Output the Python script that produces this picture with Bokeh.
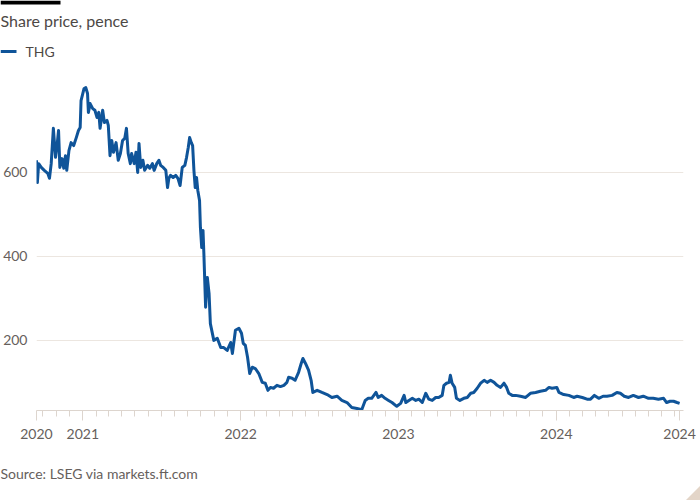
import pandas as pd
from bokeh.plotting import figure
from bokeh.layouts import column, row
from bokeh.models import (ColumnDataSource, Range1d, FixedTicker, DatetimeTickFormatter,
                          Label, BoxAnnotation)
from bokeh.embed import file_html
from bokeh.resources import INLINE

# ---------------- data ----------------
title_text = "Share price, pence"
series_name = "THG"
source_text = "Source: LSEG via markets.ft.com"

dates = [
    "2020-09-16", "2020-09-18", "2020-09-21", "2020-09-27", "2020-10-04", "2020-10-12",
    "2020-10-16", "2020-10-20", "2020-10-25", "2020-10-30", "2020-11-03", "2020-11-06",
    "2020-11-09", "2020-11-14", "2020-11-18", "2020-11-22", "2020-11-25", "2020-11-30",
    "2020-12-05", "2020-12-11", "2020-12-17", "2020-12-22", "2020-12-26", "2020-12-28",
    "2021-01-04", "2021-01-08", "2021-01-12", "2021-01-14", "2021-01-18", "2021-01-24",
    "2021-01-29", "2021-02-03", "2021-02-07", "2021-02-10", "2021-02-16", "2021-02-20",
    "2021-02-26", "2021-03-01", "2021-03-05", "2021-03-09", "2021-03-13", "2021-03-19",
    "2021-03-24", "2021-03-29", "2021-04-03", "2021-04-08", "2021-04-12", "2021-04-16",
    "2021-04-21", "2021-04-24", "2021-04-30", "2021-05-04", "2021-05-08", "2021-05-11",
    "2021-05-15", "2021-05-20", "2021-05-24", "2021-05-31", "2021-06-05", "2021-06-11",
    "2021-06-15", "2021-06-21", "2021-06-26", "2021-06-30", "2021-07-06", "2021-07-12",
    "2021-07-16", "2021-07-19", "2021-07-23", "2021-07-29", "2021-08-04", "2021-08-09",
    "2021-08-14", "2021-08-19", "2021-08-25", "2021-08-29", "2021-09-02", "2021-09-05",
    "2021-09-09", "2021-09-12", "2021-09-15", "2021-09-18", "2021-09-21", "2021-09-24",
    "2021-09-28", "2021-09-30", "2021-10-03", "2021-10-06", "2021-10-08", "2021-10-10",
    "2021-10-12", "2021-10-16", "2021-10-20", "2021-10-23", "2021-10-31", "2021-11-08",
    "2021-11-16", "2021-11-23", "2021-12-01", "2021-12-09", "2021-12-13", "2021-12-20",
    "2021-12-28", "2022-01-03", "2022-01-07", "2022-01-12", "2022-01-17", "2022-01-22",
    "2022-01-28", "2022-02-04", "2022-02-12", "2022-02-20", "2022-02-27", "2022-03-05",
    "2022-03-11", "2022-03-18", "2022-03-26", "2022-04-03", "2022-04-11", "2022-04-18",
    "2022-04-22", "2022-04-30", "2022-05-07", "2022-05-15", "2022-05-21", "2022-05-25",
    "2022-05-31", "2022-06-07", "2022-06-13", "2022-06-17", "2022-06-27", "2022-07-08",
    "2022-07-20", "2022-07-31", "2022-08-12", "2022-08-23", "2022-09-04", "2022-09-15",
    "2022-09-27", "2022-10-08", "2022-10-16", "2022-10-23", "2022-10-31", "2022-11-10",
    "2022-11-15", "2022-11-23", "2022-12-01", "2022-12-09", "2022-12-17", "2022-12-28",
    "2023-01-06", "2023-01-14", "2023-01-18", "2023-01-25", "2023-02-02", "2023-02-10",
    "2023-02-17", "2023-02-25", "2023-03-05", "2023-03-12", "2023-03-20", "2023-03-28",
    "2023-04-04", "2023-04-12", "2023-04-16", "2023-04-22", "2023-04-28", "2023-05-01",
    "2023-05-05", "2023-05-11", "2023-05-15", "2023-05-23", "2023-06-01", "2023-06-09",
    "2023-06-17", "2023-06-24", "2023-07-02", "2023-07-10", "2023-07-18", "2023-07-25",
    "2023-08-02", "2023-08-10", "2023-08-17", "2023-08-25", "2023-09-02", "2023-09-08",
    "2023-09-13", "2023-09-21", "2023-09-29", "2023-10-10", "2023-10-22", "2023-11-02",
    "2023-11-14", "2023-11-25", "2023-12-07", "2023-12-15", "2023-12-22", "2024-01-02",
    "2024-01-07", "2024-01-18", "2024-01-30", "2024-02-10", "2024-02-18", "2024-03-01",
    "2024-03-12", "2024-03-20", "2024-03-29", "2024-04-08", "2024-04-18", "2024-04-27",
    "2024-05-09", "2024-05-20", "2024-05-28", "2024-06-06", "2024-06-16", "2024-06-27",
    "2024-07-09", "2024-07-20", "2024-08-01", "2024-08-12", "2024-08-24", "2024-09-05",
    "2024-09-12", "2024-09-20", "2024-09-28", "2024-10-06", "2024-10-12",
]

prices = [
    629, 576, 621, 612, 605, 598,
    586, 621, 705, 636, 669, 700,
    612, 633, 610, 640, 605, 652,
    671, 664, 683, 700, 707, 771,
    800, 802, 788, 743, 764, 752,
    748, 731, 743, 705, 748, 719,
    724, 712, 640, 676, 648, 671,
    629, 645, 676, 681, 705, 645,
    621, 645, 621, 648, 600, 669,
    612, 629, 605, 617, 610, 621,
    605, 621, 629, 617, 612, 605,
    564, 586, 593, 588, 593, 586,
    569, 612, 617, 636, 660, 683,
    671, 664, 605, 564, 588, 557,
    533, 469, 421, 462, 407, 343,
    279, 350, 312, 240, 200, 205,
    183, 183, 176, 195, 169, 224,
    229, 217, 193, 188, 160, 121,
    136, 133, 121, 100, 98, 81,
    88, 86, 93, 90, 93, 100,
    112, 110, 105, 124, 145, 157,
    145, 129, 105, 76, 81, 76,
    71, 64, 67, 57, 52, 40,
    38, 35, 57, 62, 62, 76,
    64, 69, 62, 57, 52, 43,
    50, 69, 52, 57, 62, 57,
    60, 52, 74, 60, 57, 64,
    64, 69, 93, 98, 100, 117,
    98, 88, 62, 57, 62, 64,
    74, 76, 86, 98, 105, 100,
    105, 100, 93, 88, 98, 88,
    74, 69, 69, 67, 64, 74,
    76, 79, 81, 88, 86, 88,
    76, 71, 69, 64, 67, 64,
    60, 60, 69, 62, 67, 67,
    69, 76, 74, 67, 64, 69,
    64, 67, 62, 62, 60, 62,
    52, 55, 55, 52, 50,
]

y_ticks = [200, 400, 600]
x_start, x_end = "2020-09-16", "2024-10-21"
year_ticks = ["2020-09-16", "2021-01-01", "2022-01-01", "2023-01-01", "2024-01-01", "2024-10-12"]

# ---------------- styling ----------------
LINE = "#0f5499"
GRID = "#ece6e0"
AXIS = "#ddd5ce"
TEXT = "#66605c"
HEAD = "#4d4845"
FONT = "Lato"
W = 700
HEAD_H, MAIN_H, FOOT_H = 62, 390, 48
FL = 34  # main frame left offset


def blank(h):
    f = figure(width=W, height=h, output_backend="svg", toolbar_location=None, tools="",
               x_range=Range1d(0, W), y_range=Range1d(0, h),
               min_border=0, x_axis_type=None, y_axis_type=None)
    f.outline_line_color = None
    f.grid.visible = False
    f.background_fill_color = "white"
    f.border_fill_color = "white"
    return f


def scr_box(f, left, right, top, bottom, color):
    f.add_layout(BoxAnnotation(left=left, right=right, top=top, bottom=bottom,
                               left_units="screen", right_units="screen",
                               top_units="screen", bottom_units="screen",
                               fill_color=color, fill_alpha=1, line_color=None))


# ---------------- header ----------------
head = blank(HEAD_H)
scr_box(head, 0, 60, HEAD_H, HEAD_H - 4, "black")
head.add_layout(Label(x=0, y=HEAD_H - 20, x_units="screen", y_units="screen", text=title_text,
                      text_font=FONT, text_font_size="16px", text_color=HEAD,
                      text_baseline="middle", text_align="left"))
scr_box(head, 0, 16, HEAD_H - 49.5, HEAD_H - 52.5, LINE)
head.add_layout(Label(x=25, y=HEAD_H - 51, x_units="screen", y_units="screen", text=series_name,
                      text_font=FONT, text_font_size="14px", text_color=HEAD,
                      text_baseline="middle", text_align="left"))

# ---------------- main chart ----------------
src = ColumnDataSource(data=dict(date=pd.to_datetime(dates), price=prices))
to_ms = lambda s: pd.Timestamp(s).value / 1e6
month_ticks = [to_ms(d) for d in pd.date_range("2020-10-01", "2024-10-01", freq="MS")]

p = figure(width=W, height=MAIN_H, x_axis_type="datetime", output_backend="svg",
           toolbar_location=None, tools="",
           x_range=Range1d(pd.Timestamp(x_start), pd.Timestamp(x_end)),
           y_range=Range1d(33, 819),
           min_border_left=FL, min_border_right=17, min_border_top=80 - HEAD_H,
           min_border_bottom=MAIN_H - (410 - HEAD_H))
p.outline_line_color = None
p.background_fill_color = "white"
p.border_fill_color = "white"

p.line("date", "price", source=src, line_color=LINE, line_width=3, line_join="round")

p.yaxis.ticker = FixedTicker(ticks=y_ticks)
p.yaxis.axis_line_color = None
p.yaxis.major_tick_line_color = None
p.yaxis.minor_tick_line_color = None
p.yaxis.major_label_standoff = 3
p.yaxis.major_label_text_font = FONT
p.yaxis.major_label_text_font_size = "14px"
p.yaxis.major_label_text_color = TEXT
p.ygrid.ticker = FixedTicker(ticks=y_ticks)
p.ygrid.grid_line_color = GRID
p.xgrid.grid_line_color = None

p.xaxis.ticker = FixedTicker(ticks=[to_ms(d) for d in year_ticks], minor_ticks=month_ticks)
p.xaxis.formatter = DatetimeTickFormatter(days="%Y", months="%Y", years="%Y")
p.xaxis.axis_line_color = AXIS
p.xaxis.major_tick_line_color = AXIS
p.xaxis.minor_tick_line_color = AXIS
p.xaxis.major_tick_out = 10
p.xaxis.major_tick_in = 0
p.xaxis.minor_tick_out = 6
p.xaxis.minor_tick_in = 0
p.xaxis.major_label_standoff = 8
p.xaxis.major_label_text_font = FONT
p.xaxis.major_label_text_font_size = "14px"
p.xaxis.major_label_text_color = TEXT

# ---------------- footer ----------------
foot = blank(FOOT_H)
foot.add_layout(Label(x=0, y=FOOT_H - (473 - HEAD_H - MAIN_H), x_units="screen", y_units="screen",
                      text=source_text, text_font=FONT, text_font_size="14px", text_color=TEXT,
                      text_baseline="middle", text_align="left"))
# decorative page-corner fold (footer ranges equal its pixel size)
foot.patch(x=[W - 15, W, W], y=[0, 15, 0], fill_color="#e3d5c8", line_color=None)

layout = column(row(head), p, row(foot), spacing=0)
html = file_html(layout, INLINE)
html = html.replace("<body>", '<body style="margin:0">', 1)
open("out.html", "w").write(html)
